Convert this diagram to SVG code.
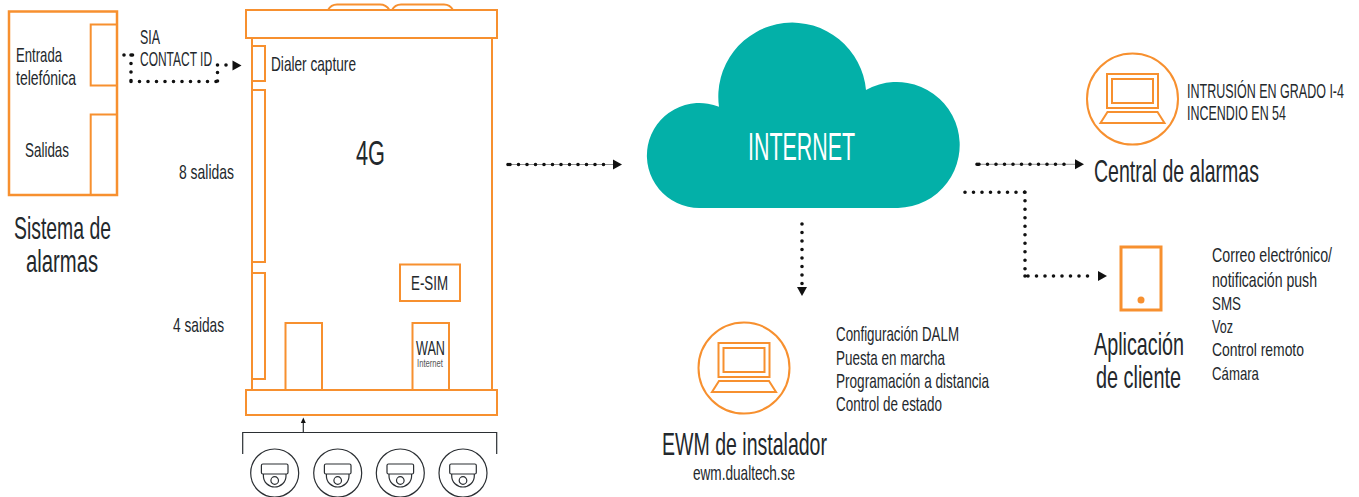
<svg xmlns="http://www.w3.org/2000/svg" width="1359" height="497" viewBox="0 0 1359 497">
<style>
.o{fill:none;stroke:#f7902f;stroke-width:2}
.w{fill:#fff;stroke:#f7902f;stroke-width:2}
.o3{fill:none;stroke:#f7902f;stroke-width:3}
.k{fill:none;stroke:#2b2f33;stroke-width:1.2}
.d{fill:none;stroke:#111;stroke-width:3.600;stroke-linecap:round;stroke-dasharray:0 8.500}
.l{fill:none;stroke:#777;stroke-width:.8}
.a{fill:#111}
text{font-family:"Liberation Sans",Arial,sans-serif;fill:#23282c}
.t18{font-size:20px}
.t22{font-size:32px}
</style>
<defs>
<g id="laptop">
<circle cx="0" cy="0" r="45.500" class="o"/>
<rect x="-25.500" y="-25" width="51" height="34" class="o"/>
<rect x="-20.500" y="-20" width="41" height="24" class="o"/>
<path d="M-25 13H25L32 24H-32Z" class="o"/>
</g>
<g id="dome">
<circle cx="0" cy="0" r="24" class="k"/>
<rect x="-13.300" y="-9" width="26.600" height="10" rx="1.500" class="k"/>
<path d="M-11.300 1V3A11.300 11 0 0 0 11.300 3V1" class="k"/>
<circle cx="0" cy="7.500" r="3.800" class="k"/>
</g>
</defs>

<g id="connectors">
<path class="d" d="M124 55H133M131 55V82M131 81.500H220M217.500 81V65M217.500 65H229"/>
<path class="a" d="M232.500 60.500L241.500 65.500L232.500 70.500Z"/>
<path class="l" d="M508 164.500H613"/>
<path class="d" d="M508 164.500H510M510 164.500H612"/>
<path class="a" d="M613 159.500L622 164.500L613 169.500Z"/>
<path class="l" d="M977 164.300H1075"/>
<path class="d" d="M977 164.300H979M979 164.300H1072"/>
<path class="a" d="M1075 159.300L1084 164.300L1075 169.300Z"/>
<path class="d" d="M965 192.300H1025M1025 192.300V276M1025 276H1028M1028 276H1096"/>
<path class="a" d="M1098 271L1107 276L1098 281Z"/>
<path class="d" d="M802 224V286"/>
<path class="a" d="M797 287L802 296L807 287Z"/>
<path class="k" d="M303.300 432V420"/>
<path class="a" d="M300.800 423L303.300 417.500L305.800 423Z"/>
<path class="k" d="M242.700 454V432.500H496.700V454"/>
</g>

<g id="alarm-system">
<rect x="9" y="11.500" width="108" height="183.500" class="o" style="stroke-width:2.500"/>
<path d="M117 24.500H90.700V85.500H117M117 114.500H90.700V195" class="o"/>
<text transform="translate(16 62) scale(.7 1)" class="t18" textLength="65.700" lengthAdjust="spacingAndGlyphs">Entrada</text>
<text transform="translate(16 85) scale(.7 1)" class="t18" textLength="85.700" lengthAdjust="spacingAndGlyphs">telefónica</text>
<text transform="translate(25 157) scale(.7 1)" class="t18" textLength="62.900" lengthAdjust="spacingAndGlyphs">Salidas</text>
<text transform="translate(14 239) scale(.7 1)" class="t22" textLength="138.600" lengthAdjust="spacingAndGlyphs">Sistema de</text>
<text transform="translate(26 272) scale(.7 1)" class="t22" textLength="102.900" lengthAdjust="spacingAndGlyphs">alarmas</text>
</g>

<g id="protocol-labels">
<text transform="translate(140 44) scale(.7 1)" class="t18" textLength="28.600" lengthAdjust="spacingAndGlyphs">SIA</text>
<text transform="translate(140 66) scale(.7 1)" class="t18" textLength="102.900" lengthAdjust="spacingAndGlyphs">CONTACT ID</text>
</g>

<g id="device-4g">
<path d="M252 38V389M492 38V389" class="o"/>
<path d="M328 10Q331 4.500 337 4.500H380Q386 4.500 389.500 10M392 10Q395 4.500 401 4.500H444Q450 4.500 453 10" class="o"/>
<rect x="246" y="10" width="251" height="28" class="w"/>
<rect x="246" y="390" width="251" height="25" class="w"/>
<rect x="252" y="46" width="13" height="35" class="o"/>
<rect x="252" y="90" width="13" height="172" class="o"/>
<rect x="252" y="273" width="13" height="106" class="o"/>
<rect x="400" y="264.500" width="60" height="36.500" class="o"/>
<rect x="285.500" y="323" width="36.500" height="67" class="o"/>
<rect x="412.500" y="323" width="36.500" height="67" class="o"/>
<text transform="translate(271 71) scale(.7 1)" class="t18" textLength="121.400" lengthAdjust="spacingAndGlyphs">Dialer capture</text>
<text transform="translate(179 179) scale(.7 1)" class="t18" textLength="78.600" lengthAdjust="spacingAndGlyphs">8 salidas</text>
<text transform="translate(173 332) scale(.7 1)" class="t18" textLength="72.900" lengthAdjust="spacingAndGlyphs">4 saidas</text>
<text transform="translate(356 165) scale(.7 1)" font-size="35" textLength="41.400" lengthAdjust="spacingAndGlyphs">4G</text>
<text transform="translate(411 290) scale(.7 1)" class="t18" textLength="52.900" lengthAdjust="spacingAndGlyphs">E-SIM</text>
<text transform="translate(416 355) scale(.7 1)" class="t18" textLength="41.400" lengthAdjust="spacingAndGlyphs">WAN</text>
<text transform="translate(417 366.500) scale(.7 1)" font-size="10.500" style="fill:#555" textLength="37.100" lengthAdjust="spacingAndGlyphs">Internet</text>
</g>

<g id="cameras">
<use href="#dome" x="274.700" y="473"/>
<use href="#dome" x="337.700" y="473"/>
<use href="#dome" x="400.300" y="473"/>
<use href="#dome" x="463" y="473"/>
</g>

<g id="internet">
<path fill="#03b0a8" d="M719 106.800A74 74 0 1 1 866 90A63 63 0 1 1 898 208H699.500A52.500 52.500 0 1 1 719 106.800Z"/>
<text transform="translate(748 160) scale(.7 1)" font-size="39" style="fill:#fff" textLength="152.900" lengthAdjust="spacingAndGlyphs">INTERNET</text>
</g>

<g id="central">
<use href="#laptop" x="1132.500" y="99"/>
<text transform="translate(1187 98) scale(.65 1)" class="t18" textLength="241.500" lengthAdjust="spacingAndGlyphs">INTRUSIÓN EN GRADO I-4</text>
<text transform="translate(1187 120) scale(.7 1)" class="t18" textLength="141.400" lengthAdjust="spacingAndGlyphs">INCENDIO EN 54</text>
<text transform="translate(1094 182) scale(.7 1)" class="t22" textLength="235.700" lengthAdjust="spacingAndGlyphs">Central de alarmas</text>
</g>

<g id="client-app">
<rect x="1121" y="247" width="40" height="63" class="o3"/>
<circle cx="1141" cy="300" r="3.500" fill="#f7902f"/>
<text transform="translate(1094 355) scale(.7 1)" class="t22" textLength="128.600" lengthAdjust="spacingAndGlyphs">Aplicación</text>
<text transform="translate(1096 388) scale(.7 1)" class="t22" textLength="121.400" lengthAdjust="spacingAndGlyphs">de cliente</text>
<text transform="translate(1212 262) scale(.7 1)" class="t18" textLength="171.400" lengthAdjust="spacingAndGlyphs">Correo electrónico/</text>
<text transform="translate(1212 287) scale(.7 1)" class="t18" textLength="150" lengthAdjust="spacingAndGlyphs">notificación push</text>
<text transform="translate(1212 310) scale(.7 1)" font-size="19" textLength="41.400" lengthAdjust="spacingAndGlyphs">SMS</text>
<text transform="translate(1212 333) scale(.7 1)" font-size="19" textLength="30" lengthAdjust="spacingAndGlyphs">Voz</text>
<text transform="translate(1212 356) scale(.7 1)" font-size="19" textLength="131.400" lengthAdjust="spacingAndGlyphs">Control remoto</text>
<text transform="translate(1212 380) scale(.7 1)" font-size="19" textLength="67.100" lengthAdjust="spacingAndGlyphs">Cámara</text>
</g>

<g id="installer">
<use href="#laptop" x="744" y="368"/>
<text transform="translate(836 341) scale(.7 1)" class="t18" textLength="175.700" lengthAdjust="spacingAndGlyphs">Configuración DALM</text>
<text transform="translate(836 365) scale(.7 1)" class="t18" textLength="155.700" lengthAdjust="spacingAndGlyphs">Puesta en marcha</text>
<text transform="translate(836 388) scale(.7 1)" class="t18" textLength="218.600" lengthAdjust="spacingAndGlyphs">Programación a distancia</text>
<text transform="translate(836 411) scale(.7 1)" class="t18" textLength="151.400" lengthAdjust="spacingAndGlyphs">Control de estado</text>
<text transform="translate(662 455) scale(.7 1)" class="t22" textLength="235.700" lengthAdjust="spacingAndGlyphs">EWM de instalador</text>
<text transform="translate(693 480) scale(.7 1)" class="t18" textLength="145.700" lengthAdjust="spacingAndGlyphs">ewm.dualtech.se</text>
</g>
</svg>
